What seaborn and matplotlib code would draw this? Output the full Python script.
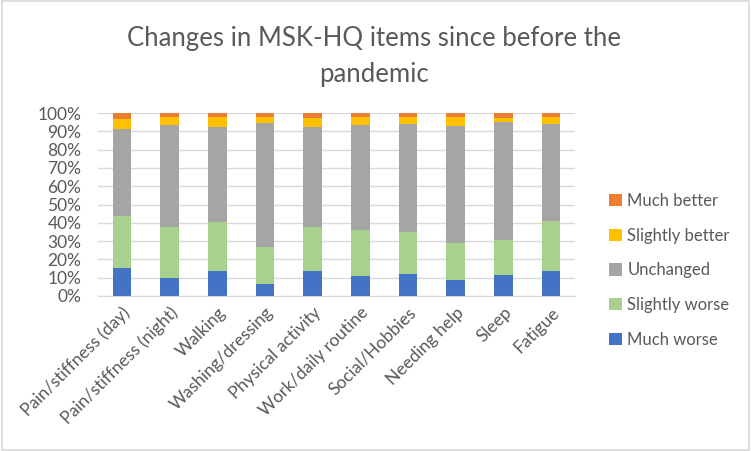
import numpy as np
import pandas as pd
import matplotlib
matplotlib.use("Agg")
import matplotlib.pyplot as plt
from matplotlib.patches import Rectangle
from matplotlib.ticker import PercentFormatter
import seaborn as sns

# --- data (percent of respondents) ---
items = ["Pain/stiffness (day)", "Pain/stiffness (night)", "Walking", "Washing/dressing",
         "Physical activity", "Work/daily routine", "Social/Hobbies", "Needing help",
         "Sleep", "Fatigue"]
much_worse = [15.5, 9.8, 13.7, 6.6, 13.8, 11.1, 11.8, 8.9, 11.3, 13.7]
slightly_worse = [28.1, 27.7, 26.7, 20.0, 23.7, 25.1, 23.2, 19.9, 19.3, 27.5]
unchanged = [47.7, 55.7, 51.7, 67.8, 55.0, 57.4, 59.0, 64.3, 64.5, 52.8]
slightly_better = [5.6, 4.4, 5.5, 3.6, 4.9, 4.0, 3.8, 4.5, 2.4, 4.0]
much_better = [3.1, 2.4, 2.4, 2.0, 2.5, 2.4, 2.2, 2.4, 2.5, 2.0]

levels = ["Much better", "Slightly better", "Unchanged", "Slightly worse", "Much worse"]
colors = ["#ED7D31", "#FFC000", "#A5A5A5", "#A9D18E", "#4472C4"]

series = {
    "Much worse": much_worse,
    "Slightly worse": slightly_worse,
    "Unchanged": unchanged,
    "Slightly better": slightly_better,
    "Much better": much_better,
}

rows = []
for lvl, vals in series.items():
    for it, v in zip(items, vals):
        rows.append({"item": it, "response": lvl, "share": v / 100.0})
df = pd.DataFrame(rows)
df["item"] = pd.Categorical(df["item"], categories=items, ordered=True)

sns.set_style("white")
plt.rcParams["font.family"] = ["Lato", "DejaVu Sans"]
text_col = "#595959"
grid_col = "#D9D9D9"

fig = plt.figure(figsize=(7.51, 4.51), dpi=100)
ax = fig.add_axes([98 / 751, 1 - 296 / 451, 477 / 751, 183 / 451])

# histplot stacks the first hue level on top
sns.histplot(data=df, x="item", weights="share", hue="response", hue_order=levels,
             palette=colors, multiple="stack", shrink=0.39, discrete=True,
             alpha=1, linewidth=0, ax=ax, legend=True)

ax.set_ylim(0, 1)
ax.set_xlim(-0.5, len(items) - 0.5)
ax.set_yticks(np.arange(0, 1.01, 0.1))
ax.yaxis.set_major_formatter(PercentFormatter(1.0, decimals=0))
ax.set_xlabel("")
ax.set_ylabel("")
ax.set_axisbelow(True)
ax.yaxis.grid(True, color=grid_col, linewidth=1)
for s in ["top", "right", "left"]:
    ax.spines[s].set_visible(False)
ax.spines["bottom"].set_color(grid_col)
ax.tick_params(axis="both", length=0, colors=text_col)
ax.tick_params(axis="y", pad=12, labelsize=12.5)
ax.tick_params(axis="x", pad=6, labelsize=12.5)
ax.set_xticks(range(len(items)))
ax.set_xticklabels(items, rotation=45, ha="right", rotation_mode="anchor")

sns.move_legend(ax, "center left", bbox_to_anchor=(1.04, -0.36, 0.3, 1.0),
                frameon=False, title=None, fontsize=12, labelcolor=text_col,
                handlelength=0.75, handleheight=0.75, handletextpad=0.35,
                labelspacing=1.12)

fig.text(0.498, 0.874, "Changes in MSK-HQ items since before the\npandemic",
         ha="center", va="center", fontsize=18.5, color=text_col,
         linespacing=1.55)

fig.patches.append(Rectangle((0.002, 0.003), 0.996, 0.994, transform=fig.transFigure,
                             fill=False, edgecolor=grid_col, linewidth=1.2))

fig.savefig("out.png", dpi=100)
